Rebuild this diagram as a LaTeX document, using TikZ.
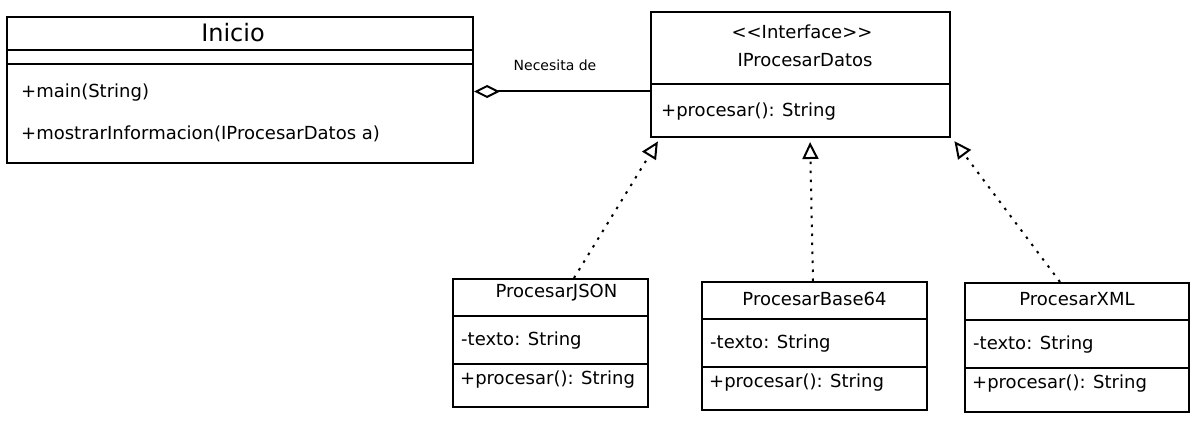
\documentclass[tikz,border=0pt]{standalone}
\usepackage{fontspec}
\setmainfont{DejaVu Sans}
\usepackage{tikz}
\usetikzlibrary{arrows.meta,calc}
\tikzset{
  umlbox/.style   = {draw, line width=2pt, rectangle, inner sep=0pt},
  divider/.style  = {line width=1.4pt},
  classname/.style = {font=\fontsize{18}{21}\selectfont, inner sep=0pt},
  bigname/.style  = {font=\fontsize{24}{28}\selectfont, inner sep=0pt},
  member/.style   = {font=\fontsize{18}{21}\selectfont, inner sep=0pt, anchor=west},
  note/.style     = {font=\fontsize{14}{16}\selectfont, inner sep=0pt},
  aggregation/.style = {line width=2pt,
                   -{Diamond[open, length=26pt, width=13pt, line width=2pt]}},
  realization/.style = {line width=2pt, dash pattern=on 2.5pt off 6.5pt,
                   -{Triangle[open, length=17pt, width=16pt, line width=2pt]}}
}

\begin{document}
\begin{tikzpicture}[x=1pt, y=-1pt]
\fill[white] (0,0) rectangle (1203,422);
\useasboundingbox (0,0) rectangle (1203,422);

% the two classes at the top
\node[umlbox, minimum width=466pt, minimum height=146pt] (inicio) at (240,90) {};
\node[umlbox, minimum width=299pt, minimum height=125pt] (iface) at (800.5,74.5) {};

\node[bigname] (inicioname) at (233,33) {Inicio};
\draw[divider] (inicio.west |- 0,50) -- (inicio.east |- 0,50);
\draw[divider] (inicio.west |- 0,64) -- (inicio.east |- 0,64);
\node[member] (inicio1) at (21,93) {+main(String)};
\node[member] (inicio2) at (21,134) {+mostrarInformacion(IProcesarDatos a)};

\node[classname] (stereo) at (802,32) {<{}<Interface>{}>};
\node[classname] (ifacename) at (805,60) {IProcesarDatos};
\draw[divider] (iface.west |- 0,84) -- (iface.east |- 0,84);
\node[member] (iface1) at (661,112) {+procesar(): String};

% the three implementations
\node[umlbox, minimum width=195pt, minimum height=128pt] (json) at (550.5,343) {};
\node[umlbox, minimum width=225pt, minimum height=128pt] (base) at (814.5,346) {};
\node[umlbox, minimum width=224pt, minimum height=129pt] (xml) at (1077,347.5) {};

\node[classname] (jsonname) at ($(json.north)+(6,15)$) {ProcesarJSON};
\node[classname] (basename) at ($(base.north)+(0,18)$) {ProcesarBase64};
\node[classname] (xmlname) at ($(xml.north)+(0,17)$) {ProcesarXML};

\foreach \c in {json,base,xml}
{
  \draw[divider] ($(\c.north west)+(0,38)$) -- ($(\c.north east)+(0,38)$);
  \draw[divider] ($(\c.north west)+(0,86)$) -- ($(\c.north east)+(0,86)$);
  \node[member] (\c attr) at ($(\c.north west)+(9,63)$) {-texto: String};
  \node[member] (\c op) at ($(\c.north west)+(8,102)$) {+procesar(): String};
}

% aggregation from Inicio to the interface
\draw[aggregation] (iface.west |- 0,91.5) -- (inicio.east |- 0,91.5);
\node[note] (needs) at (555,65) {Necesita de};

% realizations up to the interface
\draw[realization, shorten >=4pt] (json.north -| 574,0) -- (iface.south -| 660,0);
\draw[realization, shorten >=4pt] (base.north -| 813,0) -- (iface.south -| 810,0);
\draw[realization, shorten >=4pt] (xml.north -| 1060,0) -- (iface.south -| 952,0);
\end{tikzpicture}
\end{document}
